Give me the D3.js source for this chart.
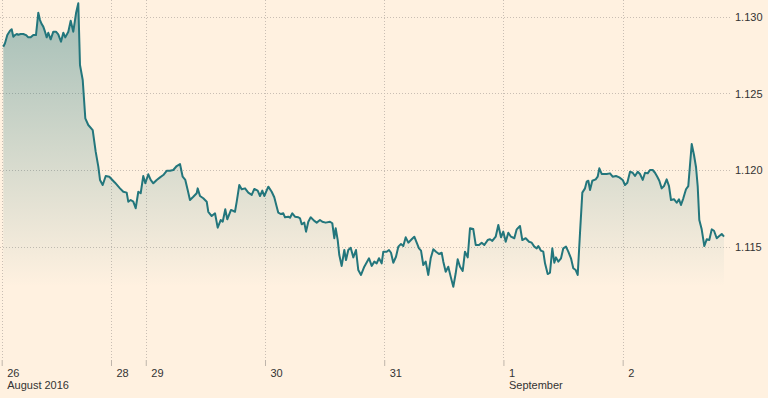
<!DOCTYPE html>
<html><head><meta charset="utf-8">
<script src="https://cdn.jsdelivr.net/npm/d3@7"></script>
<style>
html,body{margin:0;padding:0;background:#fff1e0;}
svg{display:block;}
text{font-family:"Liberation Sans",Arial,sans-serif;font-size:11px;fill:#333;}
</style></head>
<body><svg id="c" width="768" height="398"></svg>
<script>
// trading hours since the start of 26 August 2016 (weekend removed)
const hours = [0.32,0.66,1.13,1.67,2.01,2.34,2.68,3.02,3.34,3.82,4.35,4.89,5.35,5.84,6.36,6.90,7.37,7.71,8.05,8.37,8.72,9.06,9.38,9.86,10.39,10.93,11.39,11.94,12.40,12.80,13.41,13.89,14.41,14.96,15.42,15.76,16.31,16.83,17.43,18.32,18.92,19.45,19.79,20.33,20.94,21.66,22.81,23.81,
24.48,25.16,25.48,25.97,26.49,26.97,27.50,27.98,28.50,28.91,29.51,29.99,30.52,31.20,31.87,32.53,33.21,33.88,34.54,35.23,35.89,36.43,36.96,37.44,37.90,38.57,39.25,39.45,39.92,40.58,41.27,41.59,42.27,42.94,43.48,44.08,44.49,45.01,45.41,46.16,46.96,47.31,47.83,48.31,48.98,
49.64,50.33,50.85,51.53,52.00,52.46,52.86,53.67,54.35,54.87,55.36,55.68,56.22,56.69,57.03,57.69,58.04,58.50,59.04,59.71,60.05,60.39,60.91,61.26,61.72,62.20,62.87,63.41,64.07,64.54,65.22,66.09,66.55,66.95,67.23,67.64,67.96,68.44,68.97,69.31,69.77,70.25,70.78,71.32,71.78,72.33,72.99,
73.94,74.48,75.01,75.49,75.95,76.49,76.82,77.50,77.96,78.37,78.83,79.37,79.84,80.38,80.84,81.33,81.85,82.53,83.06,83.54,84.00,84.41,84.87,85.35,85.87,86.36,86.88,87.43,88.03,88.57,88.90,89.38,89.90,90.38,90.91,91.39,91.79,92.26,92.80,93.26,93.81,94.27,94.93,95.42,96.08,96.62,97.15,97.83,
98.30,98.76,99.44,99.97,100.51,100.97,101.46,101.98,102.52,103.19,103.67,104.33,104.80,105.48,106.15,106.69,107.21,107.70,108.02,108.56,109.02,109.37,109.91,110.37,110.84,111.24,111.58,112.04,112.59,113.05,113.59,114.06,114.60,115.06,115.55,115.95,116.41,116.88,117.42,117.76,118.09,118.43,118.89,119.57,119.97,120.30,120.78,
121.79,122.45,122.99,123.66,124.32,125.01,125.47,125.94,126.48,127.02,127.48,128.03,128.49,129.04,129.50,130.04,130.50,131.05,131.51,131.97,132.38,132.86,133.32,133.86,134.33,134.73,135.33,135.88,136.34,136.74,137.21,137.75,138.21,138.90,139.36,139.77,140.11,140.43,140.91,141.44,141.92,142.44,142.93,143.39,143.94,144.45,144.94,145.40];

// EUR/USD
const prices = [1.12806,1.12828,1.12882,1.12910,1.12920,1.12871,1.12882,1.12889,1.12884,1.12889,1.12889,1.12882,1.12867,1.12867,1.12882,1.12882,1.13028,1.12980,1.12954,1.12937,1.12904,1.12867,1.12897,1.12854,1.12904,1.12904,1.12887,1.12839,1.12897,1.12867,1.12904,1.12976,1.12904,1.13024,1.13090,1.12686,1.12588,1.12338,1.12294,1.12261,1.12120,1.12022,1.11935,1.11902,1.11961,1.11956,1.11917,1.11880,
1.11858,1.11852,1.11793,1.11804,1.11793,1.11750,1.11858,1.11848,1.11961,1.11913,1.11972,1.11935,1.11913,1.11935,1.11952,1.11967,1.11995,1.11995,1.12000,1.12026,1.12039,1.11956,1.11935,1.11869,1.11804,1.11825,1.11848,1.11880,1.11830,1.11815,1.11793,1.11727,1.11699,1.11717,1.11623,1.11673,1.11662,1.11743,1.11678,1.11739,1.11727,1.11793,1.11902,1.11874,1.11880,
1.11852,1.11837,1.11876,1.11865,1.11830,1.11865,1.11830,1.11891,1.11858,1.11822,1.11760,1.11721,1.11712,1.11717,1.11691,1.11695,1.11688,1.11717,1.11695,1.11691,1.11684,1.11645,1.11656,1.11597,1.11662,1.11691,1.11669,1.11656,1.11673,1.11662,1.11656,1.11662,1.11652,1.11554,1.11619,1.11542,1.11444,1.11373,1.11477,1.11412,1.11477,1.11492,1.11429,1.11477,1.11346,1.11314,1.11368,
1.11423,1.11373,1.11401,1.11390,1.11423,1.11390,1.11466,1.11466,1.11477,1.11459,1.11394,1.11433,1.11499,1.11516,1.11503,1.11560,1.11525,1.11547,1.11564,1.11525,1.11488,1.11473,1.11379,1.11401,1.11314,1.11423,1.11482,1.11466,1.11451,1.11459,1.11401,1.11335,1.11368,1.11303,1.11237,1.11325,1.11416,1.11368,1.11340,1.11466,1.11429,1.11619,1.11614,1.11510,1.11510,1.11525,1.11510,1.11542,
1.11547,1.11536,1.11564,1.11641,1.11560,1.11597,1.11531,1.11590,1.11564,1.11554,1.11612,1.11634,1.11542,1.11554,1.11531,1.11525,1.11499,1.11488,1.11503,1.11473,1.11466,1.11390,1.11320,1.11329,1.11488,1.11394,1.11429,1.11401,1.11423,1.11488,1.11499,1.11466,1.11423,1.11358,1.11346,1.11314,1.11586,1.11852,1.11880,1.11924,1.11930,1.11869,1.11930,1.11939,1.11956,1.12011,1.11974,
1.11974,1.11978,1.11956,1.11961,1.11952,1.11935,1.11902,1.11917,1.11989,1.11982,1.11961,1.11989,1.11974,1.11935,1.11982,1.11978,1.12000,1.12000,1.11982,1.11956,1.11930,1.11880,1.11895,1.11939,1.11895,1.11804,1.11809,1.11786,1.11809,1.11771,1.11815,1.11874,1.11895,1.12170,1.12098,1.12018,1.11891,1.11673,1.11612,1.11503,1.11547,1.11542,1.11612,1.11603,1.11554,1.11569,1.11582,1.11564];

const xTickHours = [0, 22, 29, 53, 77, 101, 125];
const xTickLabels = ["26", "28", "29", "30", "31", "1", "2"];
const xMonthLabels = ["August 2016", "", "", "", "", "September", ""];
const yTicks = [1.115, 1.120, 1.125, 1.130];

const svg = d3.select("#c");
const W = 768, H = 398;
const plotRight = 730, plotBottom = 360;
svg.append("rect").attr("width", W).attr("height", H).attr("fill", "#fff1e0");

const x = d3.scaleLinear().domain([0, d3.max(hours)]).range([1.7, 724]);
const y = d3.scaleLinear().domain([1.115, 1.130]).range([246.5, 17]);

const data = hours.map((h, i) => ({h, v: prices[i]}));

// gradient
const defs = svg.append("defs");
const g = defs.append("linearGradient").attr("id", "fade")
  .attr("x1", 0).attr("y1", 0).attr("x2", 0).attr("y2", 1);
g.append("stop").attr("offset", "0%").attr("stop-color", "#23767c").attr("stop-opacity", 0.42);
g.append("stop").attr("offset", "100%").attr("stop-color", "#23767c").attr("stop-opacity", 0);

// gridlines
const grid = svg.append("g");
grid.selectAll("line.h").data(yTicks).enter().append("line")
  .attr("x1", 0).attr("x2", plotRight)
  .attr("y1", d => Math.round(y(d)) + 0.5).attr("y2", d => Math.round(y(d)) + 0.5)
  .attr("stroke", "#c9beb3").attr("stroke-dasharray", "1,2");
grid.selectAll("line.v").data(xTickHours).enter().append("line")
  .attr("x1", d => Math.round(x(d)) + 0.5).attr("x2", d => Math.round(x(d)) + 0.5)
  .attr("y1", 0).attr("y2", plotBottom)
  .attr("stroke", "#c9beb3").attr("stroke-dasharray", "1,2");

// area + line
const base = y(d3.min(prices));
svg.append("path").datum(data)
  .attr("d", d3.area().x(d => x(d.h)).y0(base).y1(d => y(d.v)))
  .attr("fill", "url(#fade)");
svg.append("path").datum(data)
  .attr("d", d3.line().x(d => x(d.h)).y(d => y(d.v)))
  .attr("fill", "none").attr("stroke", "#23767c").attr("stroke-width", 2)
  .attr("stroke-linejoin", "round");

// x axis
const xAxis = d3.axisBottom(x).tickValues(xTickHours).tickSize(6)
  .tickFormat((d, i) => xTickLabels[i]);
const xg = svg.append("g").attr("transform", `translate(0,${plotBottom})`).call(xAxis);
xg.select(".domain").remove();
xg.selectAll(".tick line").attr("stroke", "#bfb5aa");
xg.selectAll(".tick text").attr("text-anchor", "start").attr("x", 5).attr("y", 9)
  .attr("dy", "0.71em").attr("fill", "#333")
  .style("font-family", "'Liberation Sans',Arial,sans-serif").style("font-size", "11px");
xg.selectAll(".tick").each(function(d, i) {
  if (xMonthLabels[i]) {
    d3.select(this).append("text").attr("x", 5).attr("y", 29).attr("fill", "#333")
      .attr("text-anchor", "start").text(xMonthLabels[i]);
  }
});

// y axis labels on right
const yAxis = d3.axisRight(y).tickValues(yTicks).tickSize(0).tickFormat(d3.format(".3f"));
const yg = svg.append("g").attr("transform", `translate(735,0)`).call(yAxis);
yg.select(".domain").remove();
yg.selectAll(".tick text").attr("x", 0).attr("fill", "#333")
  .style("font-family", "'Liberation Sans',Arial,sans-serif").style("font-size", "11px");
</script></body></html>
